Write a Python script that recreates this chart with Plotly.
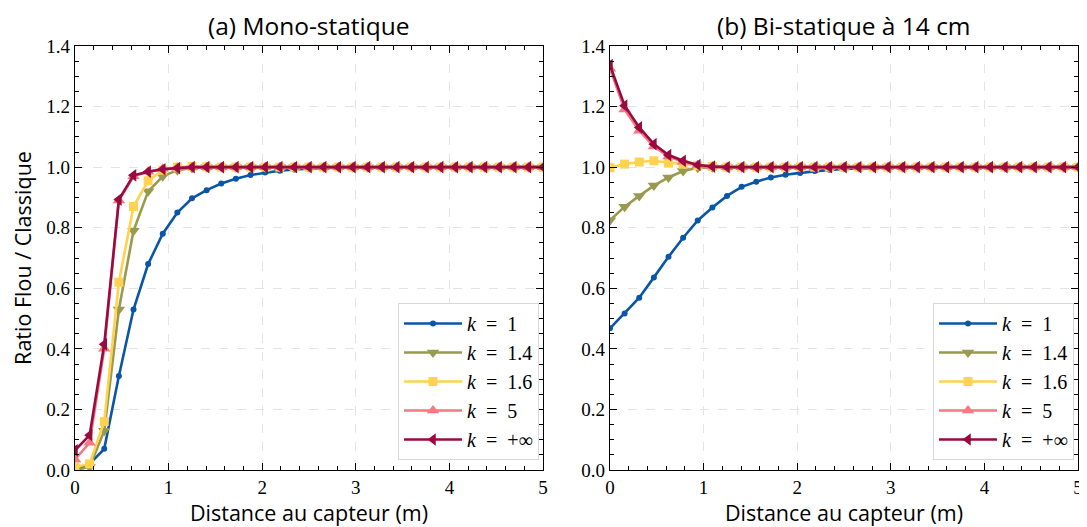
import plotly.graph_objects as go

# ---------------- data ----------------
distance = [0.0, 0.15625, 0.3125, 0.46875, 0.625, 0.78125, 0.9375, 1.09375, 1.25, 1.40625,
            1.5625, 1.71875, 1.875, 2.03125, 2.1875, 2.34375, 2.5, 2.65625, 2.8125, 2.96875,
            3.125, 3.28125, 3.4375, 3.59375, 3.75, 3.90625, 4.0625, 4.21875, 4.375, 4.53125,
            4.6875, 4.84375, 5.0]

labels = ["<i>k</i>\u2002=\u20021", "<i>k</i>\u2002=\u20021.4", "<i>k</i>\u2002=\u20021.6",
          "<i>k</i>\u2002=\u20025", "<i>k</i>\u2002=\u2002+∞"]

# (a) Mono-statique
mono_k1 = [0.0, 0.02, 0.07, 0.31, 0.53, 0.68, 0.78, 0.85, 0.897, 0.924, 0.946, 0.962, 0.974,
           0.982, 0.988, 0.992, 0.995, 0.997, 0.998, 0.999, 1.0, 1.0, 1.0, 1.0, 1.0, 1.0, 1.0,
           1.0, 1.0, 1.0, 1.0, 1.0, 1.0]
mono_k14 = [0.0, 0.01, 0.13, 0.53, 0.79, 0.92, 0.97, 0.99, 0.997, 1.0, 1.0, 1.0, 1.0, 1.0,
            1.0, 1.0, 1.0, 1.0, 1.0, 1.0, 1.0, 1.0, 1.0, 1.0, 1.0, 1.0, 1.0, 1.0, 1.0, 1.0,
            1.0, 1.0, 1.0]
mono_k16 = [0.01, 0.02, 0.16, 0.62, 0.87, 0.955, 0.99, 1.0, 1.002, 1.001, 1.0, 1.0, 1.0, 1.0,
            1.0, 1.0, 1.0, 1.0, 1.0, 1.0, 1.0, 1.0, 1.0, 1.0, 1.0, 1.0, 1.0, 1.0, 1.0, 1.0,
            1.0, 1.0, 1.0]
mono_k5 = [0.035, 0.09, 0.40, 0.89, 0.97, 0.985, 0.995, 0.998, 1.0, 1.0, 1.0, 1.0, 1.0, 1.0,
           1.0, 1.0, 1.0, 1.0, 1.0, 1.0, 1.0, 1.0, 1.0, 1.0, 1.0, 1.0, 1.0, 1.0, 1.0, 1.0,
           1.0, 1.0, 1.0]
mono_kinf = [0.065, 0.115, 0.415, 0.893, 0.973, 0.985, 0.993, 0.997, 1.0, 1.0, 1.0, 1.0, 1.0,
             1.0, 1.0, 1.0, 1.0, 1.0, 1.0, 1.0, 1.0, 1.0, 1.0, 1.0, 1.0, 1.0, 1.0, 1.0, 1.0,
             1.0, 1.0, 1.0, 1.0]

# (b) Bi-statique à 14 cm
bi_k1 = [0.468, 0.517, 0.569, 0.636, 0.704, 0.767, 0.824, 0.867, 0.905, 0.935, 0.952, 0.966,
         0.975, 0.981, 0.987, 0.991, 0.994, 0.996, 0.998, 0.999, 1.0, 1.0, 1.0, 1.0, 1.0, 1.0,
         1.0, 1.0, 1.0, 1.0, 1.0, 1.0, 1.0]
bi_k14 = [0.825, 0.869, 0.905, 0.939, 0.966, 0.987, 0.998, 1.0, 1.0, 1.0, 1.0, 1.0, 1.0, 1.0,
          1.0, 1.0, 1.0, 1.0, 1.0, 1.0, 1.0, 1.0, 1.0, 1.0, 1.0, 1.0, 1.0, 1.0, 1.0, 1.0,
          1.0, 1.0, 1.0]
bi_k16 = [0.998, 1.010, 1.017, 1.021, 1.015, 1.010, 1.005, 1.002, 1.0, 1.0, 1.0, 1.0, 1.0,
          1.0, 1.0, 1.0, 1.0, 1.0, 1.0, 1.0, 1.0, 1.0, 1.0, 1.0, 1.0, 1.0, 1.0, 1.0, 1.0,
          1.0, 1.0, 1.0, 1.0]
bi_k5 = [1.325, 1.19, 1.12, 1.068, 1.035, 1.018, 1.006, 1.002, 1.0, 1.0, 1.0, 1.0, 1.0, 1.0,
         1.0, 1.0, 1.0, 1.0, 1.0, 1.0, 1.0, 1.0, 1.0, 1.0, 1.0, 1.0, 1.0, 1.0, 1.0, 1.0,
         1.0, 1.0, 1.0]
bi_kinf = [1.337, 1.203, 1.131, 1.076, 1.040, 1.021, 1.007, 1.002, 1.0, 1.0, 1.0, 1.0, 1.0,
           1.0, 1.0, 1.0, 1.0, 1.0, 1.0, 1.0, 1.0, 1.0, 1.0, 1.0, 1.0, 1.0, 1.0, 1.0, 1.0,
           1.0, 1.0, 1.0, 1.0]

titles = ["(a) Mono-statique", "(b) Bi-statique à 14 cm"]
x_title = "Distance au capteur (m)"
y_title = "Ratio Flou / Classique"

# ---------------- style ----------------
colors = ["#0a56a6", "#999950", "#ffd24f", "#f47980", "#990a40"]
symbols = ["circle", "triangle-down", "square", "triangle-up", "triangle-left"]
msizes = [6, 11, 9, 11, 11]

# the page body adds an 8px offset: work in reference pixels minus 8
OFF = 8
W, H = 1087 - OFF, 527 - OFF
ML, MR, MT, MB = 75 - OFF, 1087 - 1078, 46 - OFF, 527 - 470
PW, PH = W - ML - MR, H - MT - MB
def fx(px): return (px - OFF - ML) / PW
def fy(py): return (H - MB - (py - OFF)) / PH

dom_x = [[0.0, fx(543)], [fx(610), 1.0]]
dom_y = [0.0, 1.0]

SERIF = "Liberation Serif, DejaVu Serif, serif"
SANS = "Open Sans, Lato, sans-serif"

fig = go.Figure()

panels = [
    [mono_k1, mono_k14, mono_k16, mono_k5, mono_kinf],
    [bi_k1, bi_k14, bi_k16, bi_k5, bi_kinf],
]

for p, series in enumerate(panels):
    xa = "x" if p == 0 else "x2"
    ya = "y" if p == 0 else "y2"
    lg = "legend" if p == 0 else "legend2"
    for i, ys in enumerate(series):
        fig.add_trace(go.Scatter(
            x=distance, y=ys, mode="lines+markers", name=labels[i],
            line=dict(color=colors[i], width=2.6),
            marker=dict(symbol=symbols[i], size=msizes[i], color=colors[i], line=dict(width=0)),
            xaxis=xa, yaxis=ya, legend=lg, cliponaxis=True,
        ))

def xaxis(dom, anchor):
    return dict(domain=dom, anchor=anchor, range=[0, 5], tickvals=[0, 1, 2, 3, 4, 5],
                ticktext=["0", "1", "2", "3", "4", "5"], automargin=False,
                ticks="inside", ticklen=7, tickwidth=1, tickcolor="black",
                minor=dict(ticks="inside", ticklen=4, dtick=0.2, tickcolor="black", showgrid=False),
                showline=True, linecolor="black", linewidth=1.3, mirror="ticks",
                showgrid=True, gridcolor="#e4e4e4", griddash="dash", gridwidth=1,
                zeroline=False, tickfont=dict(family=SERIF, size=19, color="black"),
                title=dict(text=x_title, font=dict(family=SANS, size=21.5, color="black"), standoff=4))

def yaxis(dom, anchor, show_title):
    d = dict(domain=dom, anchor=anchor, range=[0, 1.4], tickvals=[0, 0.2, 0.4, 0.6, 0.8, 1.0, 1.2, 1.4],
             ticktext=["0.0", "0.2", "0.4", "0.6", "0.8", "1.0", "1.2", "1.4"], automargin=False,
             ticks="inside", ticklen=7, tickwidth=1, tickcolor="black",
             minor=dict(ticks="inside", ticklen=4, dtick=0.05, tickcolor="black", showgrid=False),
             showline=True, linecolor="black", linewidth=1.3, mirror="ticks",
             showgrid=True, gridcolor="#e4e4e4", griddash="dash", gridwidth=1,
             zeroline=False, tickfont=dict(family=SERIF, size=19, color="black"))
    if show_title:
        d["title"] = dict(text=y_title, font=dict(family=SANS, size=21.5, color="black"), standoff=10)
    return d

leg_common = dict(bgcolor="white", bordercolor="#d8d8d8", borderwidth=1,
                  font=dict(family=SERIF, size=20, color="black"),
                  xanchor="right", yanchor="bottom", tracegroupgap=0, itemwidth=58)

fig.update_layout(
    width=W, height=H, plot_bgcolor="white", paper_bgcolor="white",
    margin=dict(l=ML, r=MR, t=MT, b=MB, autoexpand=False), showlegend=True,
    xaxis=xaxis(dom_x[0], "y"), yaxis=yaxis(dom_y, "x", True),
    xaxis2=xaxis(dom_x[1], "y2"), yaxis2=yaxis(dom_y, "x2", False),
    legend=dict(x=fx(539), y=fy(460), **leg_common),
    legend2=dict(x=fx(1074), y=fy(460), **leg_common),
)

for p in range(2):
    cx = (dom_x[p][0] + dom_x[p][1]) / 2
    fig.add_annotation(text=titles[p], x=cx, y=fy(26), xref="paper", yref="paper",
                       showarrow=False, xanchor="center", yanchor="middle",
                       font=dict(family=SANS, size=24.5, color="black"))

fig.write_html("out.html")
